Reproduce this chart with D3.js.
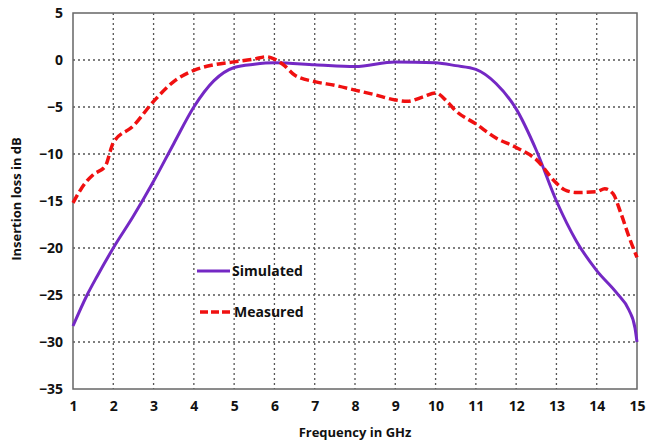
<!DOCTYPE html>
<html>
<head>
<meta charset="utf-8">
<script src="https://cdn.jsdelivr.net/npm/d3@7"></script>
<style>
  body { margin: 0; background: #fff; }
  text { font-family: "Open Sans", "Noto Sans", sans-serif; font-weight: bold; fill: #111; }
</style>
</head>
<body>
<div id="chart"></div>
<script>
const xTicks = [1, 2, 3, 4, 5, 6, 7, 8, 9, 10, 11, 12, 13, 14, 15]
const yTicks = [5, 0, -5, -10, -15, -20, -25, -30, -35]

const simFreq = [1, 1.35, 1.6, 2, 2.5, 3, 3.5, 4, 4.5, 5, 5.5, 6, 7, 8, 9, 10, 10.5, 11, 11.5, 12, 12.5, 13, 13.5, 14, 14.5, 14.8, 14.95, 15]
const simLoss = [-28.3, -25, -23, -20, -16.6, -12.9, -8.9, -5, -2.2, -0.8, -0.45, -0.3, -0.5, -0.7, -0.2, -0.3, -0.6, -1, -2.5, -5.2, -9.6, -15, -19.3, -22.4, -24.8, -26.6, -28.5, -30]

const measFreq = [1, 1.3, 1.5, 1.8, 2, 2.5, 3, 3.5, 4, 4.5, 5, 5.5, 5.8, 6, 6.25, 6.5, 7, 7.5, 8, 8.5, 9, 9.3, 9.7, 10, 10.3, 10.5, 11, 11.5, 12, 12.5, 13, 13.2, 13.5, 14, 14.2, 14.4, 14.6, 14.8, 15]
const measLoss = [-15.2, -13.1, -12.2, -11.3, -8.8, -7, -4.4, -2.3, -1.1, -0.5, -0.2, 0.1, 0.35, 0.1, -0.6, -1.6, -2.3, -2.7, -3.2, -3.7, -4.25, -4.4, -3.9, -3.5, -4.5, -5.4, -6.8, -8.3, -9.3, -10.6, -13.1, -13.8, -14.1, -14, -13.7, -14.2, -16.3, -18.8, -21]

const canvasWidth = 654
const canvasHeight = 443
const margins = {top: 13, right: 17, bottom: 54, left: 73}
const width = canvasWidth - margins.left - margins.right
const height = canvasHeight - margins.top - margins.bottom

const xScale = d3.scaleLinear().domain([1, 15]).range([0, width])
const yScale = d3.scaleLinear().domain([-35, 5]).range([height, 0])

const svg = d3
  .select('#chart')
  .append('svg')
  .attr('width', canvasWidth)
  .attr('height', canvasHeight)
  .append('g')
  .attr('transform', `translate(${margins.left}, ${margins.top})`)

// grid
svg
  .append('g')
  .selectAll('line')
  .data(xTicks.slice(1, -1))
  .enter()
  .append('line')
  .attr('x1', d => xScale(d))
  .attr('x2', d => xScale(d))
  .attr('y1', 0)
  .attr('y2', height)
  .attr('stroke', '#555')
  .attr('stroke-width', 1.3)
  .attr('stroke-dasharray', '2,3')

svg
  .append('g')
  .selectAll('line')
  .data(yTicks.slice(1, -1))
  .enter()
  .append('line')
  .attr('x1', 0)
  .attr('x2', width)
  .attr('y1', d => yScale(d))
  .attr('y2', d => yScale(d))
  .attr('stroke', '#555')
  .attr('stroke-width', 1.3)
  .attr('stroke-dasharray', '2,3')

// frame
svg
  .append('rect')
  .attr('width', width)
  .attr('height', height)
  .attr('fill', 'none')
  .attr('stroke', '#666')
  .attr('stroke-width', 1.5)

// axes
const xAxis = d3.axisBottom(xScale).tickValues(xTicks).tickSize(0).tickPadding(12)
svg
  .append('g')
  .attr('transform', `translate(0, ${height})`)
  .call(xAxis)
  .call(g => g.select('.domain').remove())
  .selectAll('text')
  .attr('font-size', 14)

const yAxis = d3.axisLeft(yScale).tickValues(yTicks).tickSize(0).tickPadding(10)
svg
  .append('g')
  .call(yAxis)
  .call(g => g.select('.domain').remove())
  .selectAll('text')
  .attr('font-size', 14)

svg
  .append('text')
  .attr('transform', `translate(${width / 2}, ${height + 48})`)
  .attr('font-size', 13)
  .style('text-anchor', 'middle')
  .text('Frequency in GHz')

svg
  .append('text')
  .attr('transform', `translate(-52, ${height / 2 - 2}) rotate(-90)`)
  .attr('font-size', 13)
  .style('text-anchor', 'middle')
  .text('Insertion loss in dB')

const line = d3
  .line()
  .x(d => xScale(d[0]))
  .y(d => yScale(d[1]))
  .curve(d3.curveMonotoneX)

svg
  .append('path')
  .datum(simFreq.map((f, i) => [f, simLoss[i]]))
  .attr('d', line)
  .attr('fill', 'none')
  .attr('stroke', '#7428c4')
  .attr('stroke-width', 3)

svg
  .append('path')
  .datum(measFreq.map((f, i) => [f, measLoss[i]]))
  .attr('d', line)
  .attr('fill', 'none')
  .attr('stroke', '#f01010')
  .attr('stroke-width', 3.5)
  .attr('stroke-dasharray', '9,4')

// legend
const legend = svg.append('g').attr('transform', `translate(${124}, ${258})`)
legend
  .append('line')
  .attr('x1', 0).attr('x2', 33).attr('y1', 0).attr('y2', 0)
  .attr('stroke', '#7428c4').attr('stroke-width', 3)
legend
  .append('text')
  .attr('x', 35).attr('y', 5)
  .attr('font-size', 14)
  .text('Simulated')
legend
  .append('line')
  .attr('x1', 3).attr('x2', 35).attr('y1', 41).attr('y2', 41)
  .attr('stroke', '#f01010').attr('stroke-width', 3.5)
  .attr('stroke-dasharray', '8,3')
legend
  .append('text')
  .attr('x', 37).attr('y', 46)
  .attr('font-size', 14)
  .text('Measured')
</script>
</body>
</html>
